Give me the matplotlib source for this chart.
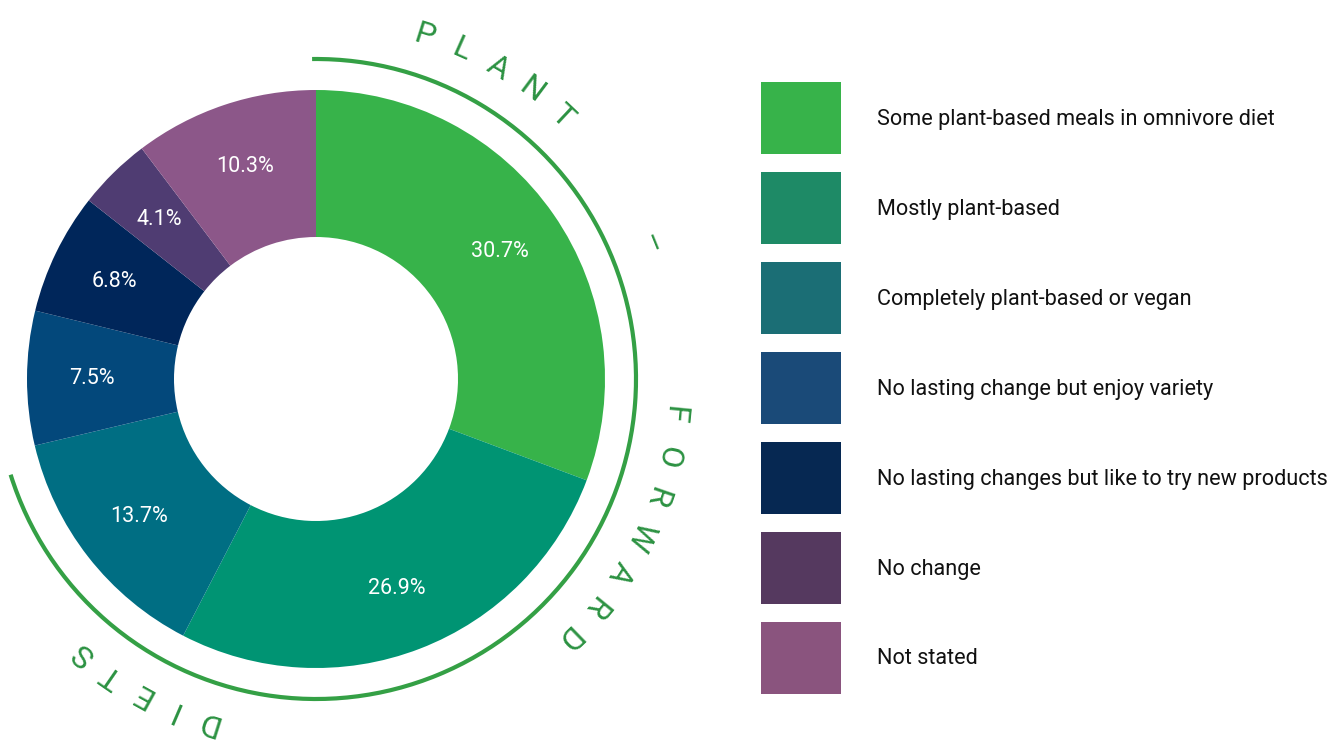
import numpy as np
import matplotlib
matplotlib.use("Agg")
import matplotlib.pyplot as plt
from matplotlib.patches import Arc, Rectangle
from matplotlib import font_manager as fm

plt.rcParams['font.family'] = ['Roboto', 'DejaVu Sans']

categories = [
    "Some plant-based meals in omnivore diet",
    "Mostly plant-based",
    "Completely plant-based or vegan",
    "No lasting change but enjoy variety",
    "No lasting changes but like to try new products",
    "No change",
    "Not stated",
]
values = [30.7, 26.9, 13.7, 7.5, 6.8, 4.1, 10.3]
pie_colors = ["#37B34A", "#009473", "#006E83", "#03487B", "#00265A", "#4F3C72", "#8C5789"]
legend_colors = ["#37B34A", "#1E8A66", "#1B6E75", "#1A4A78", "#062852", "#55395F", "#8A547E"]

title_words = ["PLANT", "–", "FORWARD", "DIETS"]
word_start_deg = [72.5, 22.0, -5.7, -107.5]
word_step_deg = [-6.4, 0.0, -6.7, -5.7]

names = {f.name for f in fm.fontManager.ttflist}
narrow = [n for n in ["Liberation Sans Narrow", "Roboto"] if n in names]

W, H = 1332, 753
fig = plt.figure(figsize=(W / 100, H / 100), dpi=100)
ax = fig.add_axes([0, 0, 1, 1])
ax.set_xlim(0, W)
ax.set_ylim(0, H)
ax.set_aspect('equal')
ax.axis('off')

cx, cy = 316, H - 379
R, r_in = 289, 142

wedges, _ = ax.pie(values, colors=pie_colors, startangle=90, counterclock=False,
                   center=(cx, cy), radius=R,
                   wedgeprops=dict(width=R - r_in, edgecolor='none'))
ax.set_xlim(0, W)
ax.set_ylim(0, H)

# percent labels
rl = 224
for w, v in zip(wedges, values):
    ang = np.deg2rad((w.theta1 + w.theta2) / 2)
    ax.text(cx + rl * np.cos(ang), cy + rl * np.sin(ang), f"{v:.1f}%",
            color="white", fontsize=15.5, ha="center", va="center")

# decorative arc
arc_col = "#34A045"
ax.add_patch(Arc((cx, cy), 2 * 320, 2 * 320, theta1=-162.6, theta2=90.7,
                 color=arc_col, lw=3.0))

# curved title
txt_col = "#2C9242"
rt = 360
for word, a0, step in zip(title_words, word_start_deg, word_step_deg):
    for i, ch in enumerate(word):
        a = a0 + i * step
        ar = np.deg2rad(a)
        ax.text(cx + rt * np.cos(ar), cy + rt * np.sin(ar), ch,
                rotation=a - 90, rotation_mode='anchor',
                ha='center', va='center', fontsize=23,
                family=[narrow[0], 'DejaVu Sans'],
                color=txt_col)

# legend
lx, ly0, lw_, lh, dy = 761, 82, 80, 72, 90
for i, (lab, col) in enumerate(zip(categories, legend_colors)):
    top = ly0 + i * dy
    ax.add_patch(Rectangle((lx, H - top - lh), lw_, lh, color=col, lw=0))
    ax.text(877, H - top - lh / 2 - 1, lab, fontsize=15.6, color="#111111",
            ha="left", va="center")

fig.savefig("out.png", dpi=100)
